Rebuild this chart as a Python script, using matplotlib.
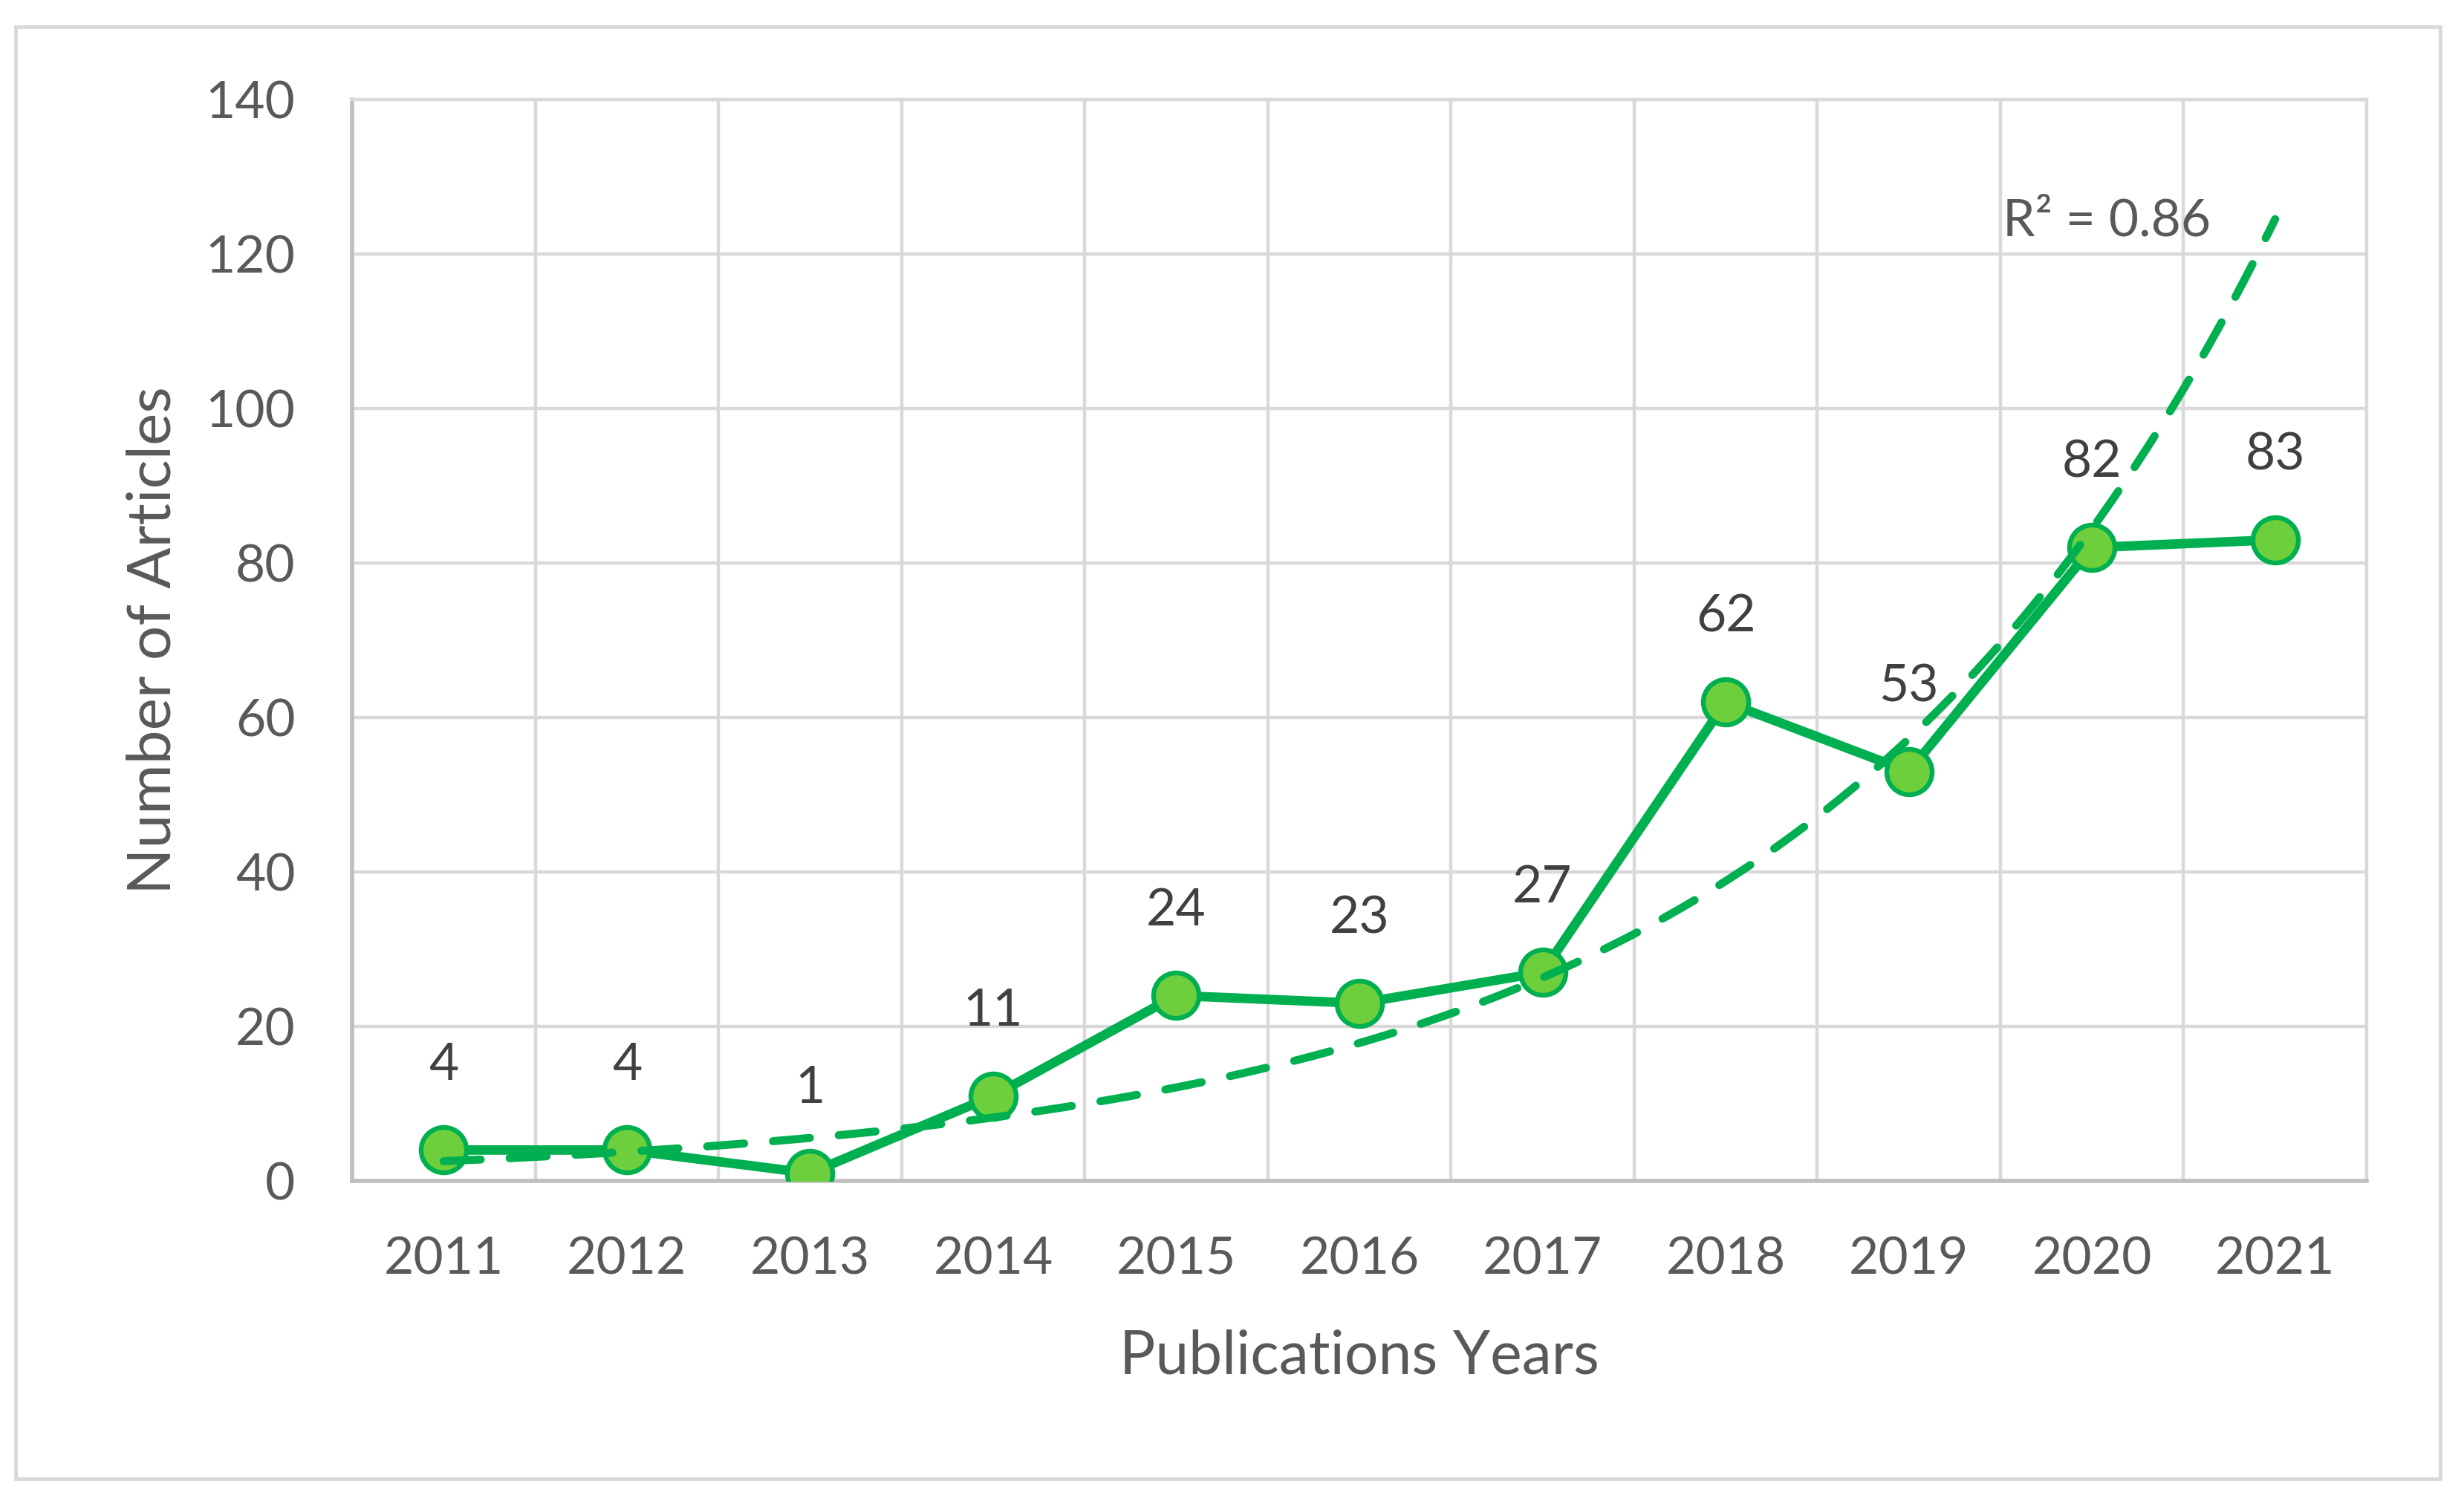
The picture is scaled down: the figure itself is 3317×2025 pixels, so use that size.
import numpy as np
import matplotlib
matplotlib.use("Agg")
import matplotlib.pyplot as plt
from matplotlib.patches import Rectangle

years = ["2011", "2012", "2013", "2014", "2015", "2016", "2017", "2018", "2019", "2020", "2021"]
articles = [4, 4, 1, 11, 24, 23, 27, 62, 53, 82, 83]
r2_label = "R² = 0.86"
y_ticks = [0, 20, 40, 60, 80, 100, 120, 140]

plt.rcParams['font.family'] = ['Lato', 'DejaVu Sans']

GREEN = "#00B050"
FILL = "#6ECF3C"
TXT = "#595959"
GRID = "#D9D9D9"

fig = plt.figure(figsize=(33.17, 20.25), dpi=100)
ax = fig.add_axes([474/3317, 1 - 1590/2025, (3186-474)/3317, (1590-134)/2025])

x = np.arange(1, len(years) + 1)
y = np.array(articles, dtype=float)

# exponential trendline (least squares on ln y, as Excel does)
b, a = np.polyfit(x, np.log(y), 1)
xt = np.linspace(x[0], x[-1], 300)
yt = np.exp(a + b * xt)

ax.plot(x, y, color=GREEN, lw=9.2, marker='o', ms=44, mfc=FILL, mec=GREEN, mew=4.6,
        zorder=3, solid_joinstyle='round')
ax.plot(xt, yt, color=GREEN, lw=7.8, ls=(0, (4.6, 3.6)), dash_capstyle='round', zorder=4)

for xi, yi in zip(x, articles):
    ax.annotate(str(yi), (xi, yi), xytext=(0, 82), textcoords='offset points',
                ha='center', va='center', fontsize=50, color="#404040", zorder=5)

ax.text(10.08, 124.2, r2_label, ha='center', va='center', fontsize=50, color=TXT, zorder=5)

ax.set_xlim(0.5, len(years) + 0.5)
ax.set_ylim(0, 140)
ax.set_yticks(y_ticks)
ax.set_yticklabels([str(t) for t in y_ticks])
ax.set_xticks(x)
ax.set_xticklabels(years)
ax.set_xticks(np.arange(0.5, len(years) + 1, 1.0), minor=True)
ax.tick_params(axis='both', which='both', length=0, labelsize=50, labelcolor=TXT)
ax.tick_params(axis='y', pad=55)
ax.tick_params(axis='x', pad=54)

ax.grid(True, axis='y', which='major', color=GRID, lw=3.2, zorder=0)
ax.grid(True, axis='x', which='minor', color=GRID, lw=3.2, zorder=0)
ax.grid(False, axis='x', which='major')
ax.set_axisbelow(True)

for side in ['top', 'right']:
    ax.spines[side].set_color(GRID)
    ax.spines[side].set_linewidth(3.2)
for side in ['left', 'bottom']:
    ax.spines[side].set_color("#BFBFBF")
    ax.spines[side].set_linewidth(4.0)

ax.set_xlabel("Publications Years", fontsize=58, color=TXT, labelpad=44)
ax.set_ylabel("Number of Articles", fontsize=59, color=TXT, labelpad=24)

# outer chart border
fig.patches.append(Rectangle((21/3317, 1 - 1991/2025), (3285-21)/3317, (1991-36)/2025,
                             transform=fig.transFigure, fill=False, edgecolor=GRID, lw=3.5))

fig.savefig("out.png", dpi=100, facecolor='white')
